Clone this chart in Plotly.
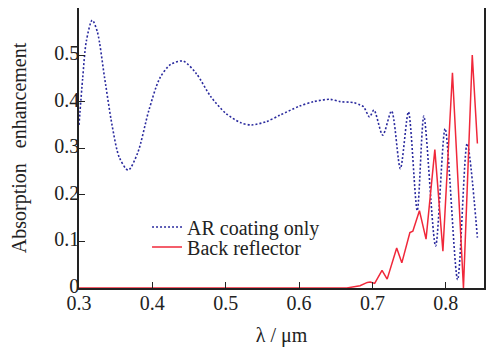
import plotly.graph_objects as go

# AR coating only (blue dotted)
ar_x = [0.300, 0.305, 0.310, 0.318, 0.325, 0.335, 0.345, 0.355, 0.367, 0.380, 0.395,
        0.410, 0.425, 0.442, 0.460, 0.480, 0.500, 0.520, 0.535, 0.555, 0.574, 0.600,
        0.620, 0.642, 0.656, 0.674, 0.683, 0.688, 0.696, 0.702, 0.714, 0.726, 0.738,
        0.749, 0.761, 0.770, 0.786, 0.799, 0.816, 0.829, 0.843]
ar_y = [0.350, 0.450, 0.530, 0.575, 0.550, 0.450, 0.350, 0.280, 0.253, 0.290, 0.380,
        0.450, 0.480, 0.487, 0.460, 0.410, 0.375, 0.355, 0.350, 0.357, 0.371, 0.390,
        0.400, 0.405, 0.400, 0.398, 0.393, 0.389, 0.367, 0.382, 0.328, 0.380, 0.256,
        0.378, 0.166, 0.369, 0.090, 0.342, 0.018, 0.310, 0.108]

# Back reflector (red solid)
br_x = [0.300, 0.500, 0.600, 0.665, 0.683, 0.693, 0.697, 0.703, 0.713, 0.720, 0.733,
        0.740, 0.751, 0.755, 0.764, 0.773, 0.785, 0.796, 0.809, 0.824, 0.836, 0.843]
br_y = [0.000, 0.000, 0.000, 0.000, 0.005, 0.012, 0.013, 0.010, 0.038, 0.019, 0.086,
        0.054, 0.119, 0.122, 0.166, 0.105, 0.297, 0.079, 0.462, 0.000, 0.500, 0.310]

x_ticks = [0.3, 0.4, 0.5, 0.6, 0.7, 0.8]
y_ticks = [0, 0.1, 0.2, 0.3, 0.4, 0.5]
y_ticktext = ["0", "0.1", "0.2", "0.3", "0.4", "0.5"]

FONT = "Liberation Serif, Times New Roman, DejaVu Serif, serif"
INK = "#222222"
f20 = dict(family=FONT, size=20, color=INK)

fig = go.Figure()
fig.add_trace(go.Scatter(x=ar_x, y=ar_y, mode="lines", name="AR coating only", legend="legend",
                         showlegend=True,
                         line=dict(color="#2a2a9e", width=1.6, dash="2px,2px", shape="spline", smoothing=0.8)))
fig.add_trace(go.Scatter(x=br_x, y=br_y, mode="lines", name="Back reflector", legend="legend2",
                         showlegend=True,
                         line=dict(color="#f0283a", width=1.5)))

leg_common = dict(xanchor="left", yanchor="middle", bgcolor="rgba(0,0,0,0)",
                  itemwidth=30, font=f20, borderwidth=0)

fig.update_layout(
    template="none",
    showlegend=True,
    width=486, height=339,
    margin=dict(l=71, r=10, t=0, b=59),
    paper_bgcolor="white", plot_bgcolor="white",
    font=f20,
    legend=dict(x=0.168, y=0.218, **leg_common),
    legend2=dict(x=0.168, y=0.146, **leg_common),
    xaxis=dict(range=[0.3, 0.852], tickvals=x_ticks, ticktext=[str(v) for v in x_ticks],
               tickfont=f20, ticks="inside", ticklen=6, tickcolor=INK, automargin=False,
               ticklabelstandoff=-4,
               showline=True, linecolor=INK, linewidth=1.5, mirror=True,
               showgrid=False, zeroline=False,
               title=dict(text="λ / μm", font=f20, standoff=23)),
    yaxis=dict(range=[0, 0.601], tickvals=y_ticks, ticktext=y_ticktext,
               tickfont=f20, ticks="inside", ticklen=6, tickcolor=INK, automargin=False,
               ticklabelstandoff=-6, ticklabelshift=-2,
               showline=True, linecolor=INK, linewidth=1.5, mirror=True,
               showgrid=False, zeroline=False,
               title=dict(text="Absorption\u00a0\u00a0\u00a0enhancement", font=f20, standoff=28)),
)

fig.write_html("out.html")
